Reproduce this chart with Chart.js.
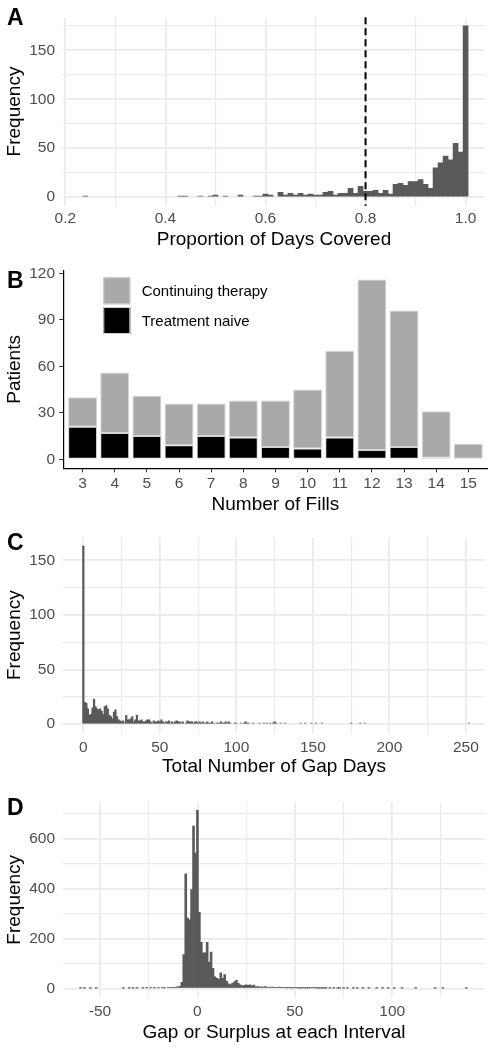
<!DOCTYPE html>
<html>
<head>
<meta charset="utf-8">
<script src="https://cdn.jsdelivr.net/npm/chart.js@4.4.0/dist/chart.umd.min.js"></script>
<style>
html,body{margin:0;padding:0;background:#fff;}
#wrap{position:relative;width:494px;height:1050px;overflow:hidden;background:#fff;}
canvas{position:absolute;left:0;}
</style>
</head>
<body>
<div id="wrap">
  <canvas id="cA" width="494" height="252" style="top:0px"></canvas>
  <canvas id="cB" width="494" height="261" style="top:256px"></canvas>
  <canvas id="cC" width="494" height="259" style="top:520px"></canvas>
  <canvas id="cD" width="494" height="260" style="top:785px"></canvas>
</div>
<script>
// ---------------- DATA ----------------
// Panel A: Proportion of Days Covered (bin centres, width 0.01)
const pdcBins = [0.24,0.43,0.44,0.47,0.49,0.50,0.52,0.55,0.58,0.59,0.60,0.61,
                 0.63,0.64,0.65,0.66,0.67,0.68,0.69,0.70,0.71,0.72,0.73,0.74,0.75,0.76,0.77,0.78,0.79,
                 0.80,0.81,0.82,0.83,0.84,0.85,0.86,0.87,0.88,0.89,0.90,0.91,0.92,0.93,0.94,0.95,0.96,0.97,0.98,0.99,1.00];
const pdcFreq = [1,1,1,1,1,2,1,2,1,1,3,2,
                 5,2,4,2,4,2,3,2,2,5,6,2,4,4,9,4,11,
                 6,6,7,4,7,3,13,14,12,16,16,18,13,9,30,35,42,38,55,46,175];
const pdcCutoff = 0.8;
const pdcXTicks = [0.2,0.4,0.6,0.8,1.0];
const pdcXTickLabels = ['0.2','0.4','0.6','0.8','1.0'];
const pdcXMinor = [0.3,0.5,0.7,0.9];
const pdcYTicks = [0,50,100,150];
const pdcYMinor = [25,75,125,175];

// Panel B: Number of fills
const fills = [3,4,5,6,7,8,9,10,11,12,13,14,15];
const treatmentNaive = [21,17,15,9,15,14,8,7,14,6,8,1,0];
const continuingTherapy = [19,39,26,27,21,24,30,38,56,110,88,30,10];
const fillsYTicks = [0,30,60,90,120];

// Panel C: Total number of gap days (bin width 1 day)
const gapDays = [0,1,2,3,4,5,6,7,8,9,10,11,12,13,14,15,16,17,18,19,20,21,22,23,24,25,26,27,28,29,
                 30,31,32,33,34,35,36,37,38,39,40,41,42,43,44,45,46,47,48,49,50,51,52,53,54,55,56,57,58,59,
                 60,61,62,63,64,65,67,68,69,70,71,72,73,74,75,76,77,78,79,80,81,82,83,84,85,87,88,89,
                 90,91,92,93,94,95,96,99,100,103,105,106,107,108,111,115,118,120,122,124,125,126,129,132,
                 142,145,149,152,156,175,181,184,252];
const gapFreq = [163,20,19,14,8,9,15,23,16,14,13,14,12,9,16,17,14,8,7,5,11,13,7,4,3,2,3,1,8,4,
                 4,5,7,2,4,8,3,3,4,2,2,3,4,4,2,1,3,2,2,3,2,4,2,1,2,2,3,1,2,1,
                 2,3,2,2,1,2,1,3,2,2,2,1,2,2,1,2,1,2,1,1,2,1,1,2,1,1,1,1,
                 2,1,1,2,1,2,1,1,1,1,1,2,1,1,1,1,1,1,1,1,2,1,1,1,
                 1,1,1,1,1,1,1,1,1];
const gapXTicks = [0,50,100,150,200,250];
const gapXMinor = [25,75,125,175,225];
const gapYTicks = [0,50,100,150];
const gapYMinor = [25,75,125];

// Panel D: Gap or surplus at each interval (bin width 1 day)
const surplusBins = [-60,-58,-55,-52,-38,-35,-33,-31,-28,-26,-24,-22,-20,-18,-17,-15,-14,-13,-12,-11,-10,-9,
                     -8,-7,-6,-5,-4,-3,-2,-1,0,1,2,3,4,5,6,7,8,9,10,11,12,13,14,15,16,17,18,19,20,
                     21,22,23,24,25,26,27,28,29,30,31,32,33,34,35,36,37,38,39,40,41,42,43,44,45,46,47,48,49,50,
                     51,52,53,54,55,56,57,58,59,60,61,62,63,64,65,66,68,70,72,73,75,77,80,82,85,88,92,95,98,
                     101,105,112,122,126,138];
const surplusFreq = [1,1,1,1,1,1,1,1,1,2,2,2,2,3,2,3,4,3,4,5,6,8,
                     24,135,459,282,275,396,650,542,713,305,184,142,142,184,105,145,80,46,40,36,62,40,55,28,18,15,20,26,32,
                     20,14,10,12,14,12,14,10,13,6,7,5,6,5,7,4,5,4,5,3,4,5,3,4,3,2,3,2,2,3,
                     2,2,1,2,2,1,2,2,3,2,2,1,2,1,1,1,1,1,1,1,1,1,1,1,1,1,1,1,1,
                     1,1,1,1,1,1];
const surplusXTicks = [-50,0,50,100];
const surplusXMinor = [-25,25,75,125];
const surplusYTicks = [0,200,400,600];
const surplusYMinor = [100,300,500,700];

// ---------------- STYLE ----------------
const FONT = "'Liberation Sans', Arial, Helvetica, sans-serif";
Chart.defaults.font.family = FONT;
Chart.defaults.animation = false;
const TICK_COLOR = '#4D4D4D';
const GRID_COLOR = '#EBEBEB';
const HIST_COLOR = '#595959';
const TITLE_SIZE = 19;

const tagPlugin = {
  id: 'panelTag',
  afterDraw(chart, args, opts) {
    const c = chart.ctx;
    c.save();
    c.font = 'bold 23px ' + FONT;
    c.fillStyle = '#000';
    c.textBaseline = 'alphabetic';
    c.textAlign = 'left';
    c.fillText(opts.text, opts.x, opts.y);
    c.restore();
  }
};

const vlinePlugin = {
  id: 'vline',
  afterDatasetsDraw(chart, args, opts) {
    if (opts.value === undefined) return;
    const c = chart.ctx, a = chart.chartArea;
    const x = chart.scales.x.getPixelForValue(opts.value);
    c.save();
    c.strokeStyle = '#000';
    c.lineWidth = 2;
    c.setLineDash([7, 4]);
    c.beginPath();
    c.moveTo(x, a.top);
    c.lineTo(x, a.bottom);
    c.stroke();
    c.restore();
  }
};

const boxLegendPlugin = {
  id: 'boxLegend',
  afterDraw(chart, args, opts) {
    if (!opts.order) return;
    const c = chart.ctx;
    c.save();
    opts.order.forEach((di, k) => {
      const ds = chart.data.datasets[di];
      const y = opts.y + k * opts.step;
      c.fillStyle = ds.backgroundColor;
      c.fillRect(opts.x, y, opts.size, opts.size);
      c.strokeStyle = ds.borderColor;
      c.lineWidth = 1;
      c.strokeRect(opts.x + 0.5, y + 0.5, opts.size - 1, opts.size - 1);
      c.fillStyle = '#000';
      c.font = '15px ' + FONT;
      c.textBaseline = 'middle';
      c.textAlign = 'left';
      c.fillText(ds.label, opts.x + opts.size + opts.gap, y + opts.size / 2 + 1);
    });
    c.restore();
  }
};

function ticksFrom(major, minor) {
  return (scale) => {
    scale.ticks = major.concat(minor).sort((a, b) => a - b).map(v => ({value: v}));
  };
}
function near(list, v) { return list.findIndex(t => Math.abs(t - v) < 1e-9); }

function histogram(id, cfg) {
  const data = cfg.bins.map((b, i) => ({x: b, y: cfg.freqs[i]}));
  return new Chart(document.getElementById(id), {
    type: 'bar',
    data: { datasets: [{ data, backgroundColor: HIST_COLOR, borderWidth: 0,
      barPercentage: 1, categoryPercentage: 1 }] },
    plugins: [tagPlugin, vlinePlugin],
    options: {
      responsive: false,
      animation: false,
      layout: { padding: { top: cfg.padTop, right: cfg.padRight, bottom: 0, left: 0 } },
      plugins: {
        legend: { display: false },
        tooltip: { enabled: false },
        panelTag: { text: cfg.tag, x: 7, y: cfg.tagY },
        vline: { value: cfg.vline }
      },
      scales: {
        x: {
          type: 'linear', offset: false, min: cfg.xMin, max: cfg.xMax,
          afterBuildTicks: ticksFrom(cfg.xMajor, cfg.xMinor),
          afterFit: (s) => { s.height = cfg.hx; },
          grid: { offset: false, drawTicks: false, color: GRID_COLOR,
            lineWidth: (ctx) => (ctx.tick && near(cfg.xMajor, ctx.tick.value) >= 0) ? 1.8 : 1.2 },
          border: { display: false },
          ticks: { autoSkip: false, maxRotation: 0, padding: cfg.tickPadX, color: TICK_COLOR,
            font: { size: 15.5 },
            callback: (v) => { const i = near(cfg.xMajor, v); return i >= 0 ? cfg.xLabels[i] : ''; } },
          title: { display: true, text: cfg.xTitle, color: '#000', font: { size: TITLE_SIZE, lineHeight: 1.2 },
            padding: { top: 0, bottom: cfg.titlePadB } }
        },
        y: {
          min: cfg.yMin, max: cfg.yMax,
          afterBuildTicks: ticksFrom(cfg.yMajor, cfg.yMinor),
          afterFit: (s) => { s.width = 63; },
          grid: { drawTicks: false, color: GRID_COLOR,
            lineWidth: (ctx) => (ctx.tick && near(cfg.yMajor, ctx.tick.value) >= 0) ? 1.8 : 1.2 },
          border: { display: false },
          ticks: { autoSkip: false, padding: 8, color: TICK_COLOR, font: { size: 15.5 },
            callback: (v) => near(cfg.yMajor, v) >= 0 ? String(v) : '' },
          title: { display: true, text: 'Frequency', color: '#000', font: { size: TITLE_SIZE, lineHeight: 1.2 },
            padding: { top: 3.1, bottom: 0 } }
        }
      }
    }
  });
}

// Panel A
histogram('cA', {
  bins: pdcBins, freqs: pdcFreq, tag: 'A', tagY: 25, vline: pdcCutoff,
  xMin: 0.1953, xMax: 1.0388, yMin: -8.75, yMax: 183.75,
  xMajor: pdcXTicks, xMinor: pdcXMinor, xLabels: pdcXTickLabels,
  yMajor: pdcYTicks, yMinor: pdcYMinor,
  xTitle: 'Proportion of Days Covered',
  padTop: 6.9, padRight: 9, hx: 46.3, titlePadB: 1, tickPadX: 3.5
});

// Panel C
histogram('cC', {
  bins: gapDays, freqs: gapFreq, tag: 'C', tagY: 29.5,
  xMin: -13.3, xMax: 262.5, yMin: -8.15, yMax: 171.15,
  xMajor: gapXTicks, xMinor: gapXMinor, xLabels: gapXTicks.map(String),
  yMajor: gapYTicks, yMinor: gapYMinor,
  xTitle: 'Total Number of Gap Days',
  padTop: 14.9, padRight: 9, hx: 46, titlePadB: 1, tickPadX: 5.7
});

// Panel D
histogram('cD', {
  bins: surplusBins, freqs: surplusFreq, tag: 'D', tagY: 30,
  xMin: -69, xMax: 147.6, yMin: -35.6, yMax: 745,
  xMajor: surplusXTicks, xMinor: surplusXMinor, xLabels: surplusXTicks.map(String),
  yMajor: surplusYTicks, yMinor: surplusYMinor,
  xTitle: 'Gap or Surplus at each Interval',
  padTop: 14.2, padRight: 9, hx: 47.7, titlePadB: 1, tickPadX: 5.1
});

// Panel B
new Chart(document.getElementById('cB'), {
  type: 'bar',
  data: {
    datasets: [
      { label: 'Treatment naive', data: fills.map((f, i) => ({x: f, y: treatmentNaive[i]})),
        backgroundColor: '#000000', borderColor: '#D4D4D4', borderWidth: 1, borderSkipped: false,
        barPercentage: 0.9, categoryPercentage: 1 },
      { label: 'Continuing therapy', data: fills.map((f, i) => ({x: f, y: continuingTherapy[i]})),
        backgroundColor: '#A9A9A9', borderColor: '#D4D4D4', borderWidth: 1, borderSkipped: false,
        barPercentage: 0.9, categoryPercentage: 1 }
    ]
  },
  plugins: [tagPlugin, boxLegendPlugin],
  options: {
    responsive: false,
    animation: false,
    layout: { padding: { top: 14.5, right: 6.4, bottom: 0, left: 0 } },
    plugins: {
      legend: { display: false },
      tooltip: { enabled: false },
      panelTag: { text: 'B', x: 7, y: 32 },
      boxLegend: { order: [1, 0], x: 103.3, y: 21.3, size: 27, step: 29.7, gap: 11.4 }
    },
    scales: {
      x: {
        type: 'linear', offset: false, stacked: true, min: 2.4, max: 15.6,
        afterBuildTicks: (s) => { s.ticks = fills.map(v => ({value: v})); },
        afterFit: (s) => { s.height = 48.7; },
        grid: { offset: false, drawOnChartArea: false, drawTicks: true, tickLength: 4, tickColor: '#333333', tickWidth: 1 },
        border: { display: true, color: '#000', width: 1.2 },
        ticks: { autoSkip: false, maxRotation: 0, padding: 1.7, color: TICK_COLOR, font: { size: 15.5 },
          callback: (v) => String(v) },
        title: { display: true, text: 'Number of Fills', color: '#000', font: { size: TITLE_SIZE, lineHeight: 1.2 },
          padding: { top: 0, bottom: 0.7 } }
      },
      y: {
        stacked: true, min: -5.8, max: 121.8,
        afterBuildTicks: (s) => { s.ticks = fillsYTicks.map(v => ({value: v})); },
        afterFit: (s) => { s.width = 63.3; },
        grid: { drawOnChartArea: false, drawTicks: true, tickLength: 4, tickColor: '#333333', tickWidth: 1 },
        border: { display: true, color: '#000', width: 1.2 },
        ticks: { autoSkip: false, padding: 4.3, color: TICK_COLOR, font: { size: 15.5 },
          callback: (v) => String(v) },
        title: { display: true, text: 'Patients', color: '#000', font: { size: TITLE_SIZE, lineHeight: 1.2 },
          padding: { top: 3.1, bottom: 0 } }
      }
    }
  }
});
</script>
</body>
</html>
